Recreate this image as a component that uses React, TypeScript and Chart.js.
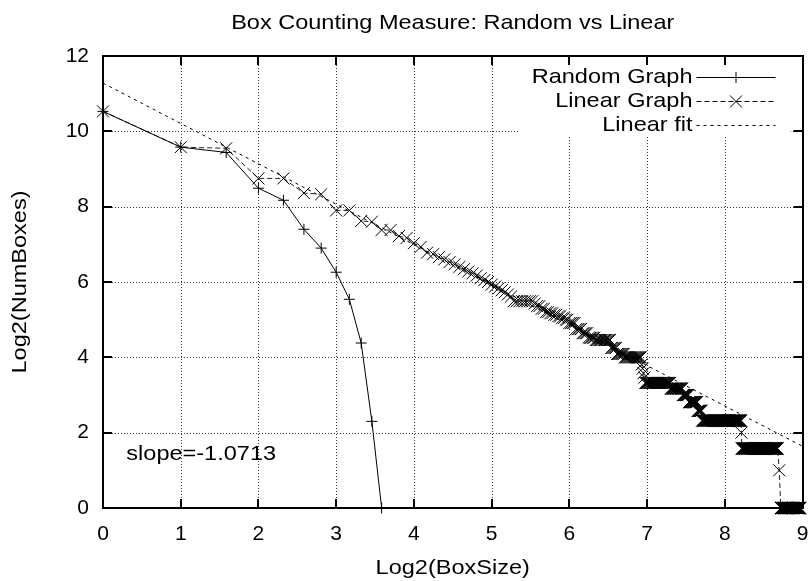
import React, { useEffect, useRef } from "react";
import { Chart, registerables } from "chart.js";

Chart.register(...registerables);

// ---------- data ----------
const chartTitle = "Box Counting Measure: Random vs Linear";
const xAxisLabel = "Log2(BoxSize)";
const yAxisLabel = "Log2(NumBoxes)";
const slopeLabel = "slope=-1.0713";
const legendLabels = ["Random Graph", "Linear Graph", "Linear fit"];

const xTicks = [0, 1, 2, 3, 4, 5, 6, 7, 8, 9];
const yTicks = [0, 2, 4, 6, 8, 10, 12];

// Random graph: box sizes and log2(number of boxes)
const randomBoxSizes = [1, 2, 3, 4, 5, 6, 7, 8, 9, 10, 11, 12];
const randomLog2Boxes = [10.53, 9.58, 9.44, 8.49, 8.17, 7.4, 6.9, 6.26, 5.54, 4.38, 2.3, 0];

// Linear graph: runs of box sizes [fromSize, toSize, log2(number of boxes)]
const linearRuns: [number, number, number][] = [
  [1, 1, 10.53], [2, 2, 9.58], [3, 3, 9.55], [4, 5, 8.75], [6, 6, 8.36], [7, 7, 8.33],
  [8, 9, 7.9], [10, 10, 7.62], [11, 11, 7.6], [12, 13, 7.38], [14, 14, 7.22], [15, 15, 7.17],
  [16, 16, 7.03], [17, 17, 6.93], [18, 18, 6.78], [19, 19, 6.74], [20, 20, 6.66], [21, 21, 6.6],
  [22, 22, 6.53], [23, 23, 6.47], [24, 24, 6.4], [25, 25, 6.34], [26, 26, 6.28], [27, 27, 6.23],
  [28, 28, 6.17], [29, 29, 6.1], [30, 30, 6.05], [31, 31, 6.0], [32, 32, 5.93], [33, 33, 5.88],
  [34, 34, 5.83], [35, 35, 5.78], [36, 36, 5.73], [37, 37, 5.67], [38, 38, 5.61], [39, 46, 5.49],
  [47, 47, 5.43], [48, 49, 5.36], [50, 51, 5.29], [52, 53, 5.2], [54, 55, 5.17], [56, 57, 5.13],
  [58, 59, 5.09], [60, 61, 5.04], [62, 63, 5.0], [64, 67, 4.91], [68, 71, 4.75], [72, 75, 4.64],
  [76, 80, 4.52], [81, 92, 4.46], [93, 97, 4.25], [98, 104, 4.09], [105, 121, 4.0],
  [122, 122, 3.81], [123, 123, 3.7], [124, 124, 3.58], [125, 125, 3.46], [126, 157, 3.32],
  [158, 175, 3.17], [176, 185, 3.0], [186, 200, 2.81], [201, 208, 2.58], [209, 296, 2.32],
  [297, 297, 2.0], [298, 410, 1.58], [416, 416, 1.0], [422, 502, 0],
];

// Linear fit
const fitSlope = -1.0713;
const fitIntercept = 11.28;
const fitXRange = [0, 9];

// slope annotation anchor (data coordinates)
const slopeLabelAt = { x: 0.3, y: 1.43 };

// ---------- styling ----------
const FONT_FAMILY = "'Liberation Sans', Arial, Helvetica, sans-serif";
const FONT_SIZE = 21;
const FONT = `${FONT_SIZE}px ${FONT_FAMILY}`;
const TEXT_STRETCH = 1.12;

function randomPoints() {
  return randomBoxSizes.map((s, i) => ({ x: Math.log2(s), y: randomLog2Boxes[i] }));
}

function linearPoints() {
  const pts: { x: number; y: number }[] = [];
  for (const [from, to, v] of linearRuns) {
    for (let s = from; s <= to; s++) pts.push({ x: Math.log2(s), y: v });
  }
  return pts;
}

function fitPoints() {
  return fitXRange.map((x) => ({ x, y: fitIntercept + fitSlope * x }));
}

function drawText(
  ctx: CanvasRenderingContext2D,
  text: string,
  x: number,
  y: number,
  align: CanvasTextAlign,
  rotation = 0
) {
  ctx.save();
  ctx.translate(x, y);
  if (rotation) ctx.rotate(rotation);
  ctx.scale(TEXT_STRETCH, 1);
  ctx.font = FONT;
  ctx.textAlign = align;
  ctx.textBaseline = "middle";
  ctx.fillStyle = "#000";
  ctx.fillText(text, 0, 0);
  ctx.restore();
}

function drawPlus(ctx: CanvasRenderingContext2D, cx: number, cy: number, r: number) {
  ctx.beginPath();
  ctx.moveTo(cx - r, cy);
  ctx.lineTo(cx + r, cy);
  ctx.moveTo(cx, cy - r);
  ctx.lineTo(cx, cy + r);
  ctx.stroke();
}

function drawTimes(ctx: CanvasRenderingContext2D, cx: number, cy: number, r: number) {
  const d = r * Math.SQRT1_2;
  ctx.beginPath();
  ctx.moveTo(cx - d, cy - d);
  ctx.lineTo(cx + d, cy + d);
  ctx.moveTo(cx + d, cy - d);
  ctx.lineTo(cx - d, cy + d);
  ctx.stroke();
}

const gnuplotPlugin = {
  id: "gnuplotFrame",
  beforeDatasetsDraw(chart: any) {
    const { ctx, chartArea: a, scales } = chart;
    const xs = scales.x;
    const ys = scales.y;
    ctx.save();
    ctx.strokeStyle = "#333";
    ctx.lineWidth = 1;
    ctx.setLineDash([1, 2]);
    for (const v of xTicks) {
      if (v === xTicks[0] || v === xTicks[xTicks.length - 1]) continue;
      const px = Math.round(xs.getPixelForValue(v)) + 0.5;
      ctx.beginPath();
      ctx.moveTo(px, a.top);
      ctx.lineTo(px, a.bottom);
      ctx.stroke();
    }
    for (const v of yTicks) {
      if (v === yTicks[0] || v === yTicks[yTicks.length - 1]) continue;
      const py = Math.round(ys.getPixelForValue(v)) + 0.5;
      ctx.beginPath();
      ctx.moveTo(a.left, py);
      ctx.lineTo(a.right, py);
      ctx.stroke();
    }
    ctx.setLineDash([]);
    // key area is kept clear of the grid
    ctx.fillStyle = "#fff";
    ctx.fillRect(a.right - 283, a.top + 1, 271, 79);
    ctx.restore();
  },
  afterDatasetsDraw(chart: any) {
    const { ctx, chartArea: a, scales } = chart;
    const xs = scales.x;
    const ys = scales.y;
    ctx.save();
    ctx.strokeStyle = "#000";
    ctx.fillStyle = "#000";
    ctx.setLineDash([]);

    // ticks (inside, mirrored)
    ctx.lineWidth = 2;
    const tl = 9;
    for (const v of xTicks) {
      const px = Math.round(xs.getPixelForValue(v));
      ctx.beginPath();
      ctx.moveTo(px, a.bottom);
      ctx.lineTo(px, a.bottom - tl);
      ctx.moveTo(px, a.top);
      ctx.lineTo(px, a.top + tl);
      ctx.stroke();
    }
    for (const v of yTicks) {
      const py = Math.round(ys.getPixelForValue(v));
      ctx.beginPath();
      ctx.moveTo(a.left, py);
      ctx.lineTo(a.left + tl, py);
      ctx.moveTo(a.right, py);
      ctx.lineTo(a.right - tl, py);
      ctx.stroke();
    }
    // border
    ctx.strokeRect(Math.round(a.left), Math.round(a.top), Math.round(a.right - a.left), Math.round(a.bottom - a.top));

    const cx = (a.left + a.right) / 2;
    const cy = (a.top + a.bottom) / 2;
    // title and axis titles
    drawText(ctx, chartTitle, cx, 23, "center");
    drawText(ctx, xAxisLabel, cx, 568, "center");
    drawText(ctx, yAxisLabel, 20, cy, "center", -Math.PI / 2);

    // slope label
    drawText(ctx, slopeLabel, xs.getPixelForValue(slopeLabelAt.x), ys.getPixelForValue(slopeLabelAt.y), "left");

    // legend
    const textRight = a.right - 110;
    const sampleL = a.right - 106;
    const sampleR = a.right - 27;
    const sampleC = (sampleL + sampleR) / 2;
    legendLabels.forEach((label, i) => {
      const ry = Math.round(a.top + 21 + 24 * i) + 0.5;
      drawText(ctx, label, textRight, ry, "right");
      ctx.lineWidth = 1;
      ctx.strokeStyle = "#000";
      if (i === 0) ctx.setLineDash([]);
      else if (i === 1) ctx.setLineDash([5, 3]);
      else ctx.setLineDash([3, 4]);
      ctx.beginPath();
      ctx.moveTo(sampleL, ry);
      ctx.lineTo(sampleR, ry);
      ctx.stroke();
      ctx.setLineDash([]);
      if (i === 0) drawPlus(ctx, sampleC, ry, 5.5);
      if (i === 1) drawTimes(ctx, sampleC, ry, 8.5);
    });
    ctx.restore();
  },
};

export default function App() {
  const canvasRef = useRef<HTMLCanvasElement>(null);

  useEffect(() => {
    document.body.style.margin = "0";
    const canvas = canvasRef.current;
    if (!canvas) return;
    const tickFont = { family: FONT_FAMILY, size: FONT_SIZE };
    const chart = new Chart(canvas, {
      type: "scatter",
      data: {
        datasets: [
          {
            label: legendLabels[0],
            data: randomPoints(),
            showLine: true,
            borderColor: "#000",
            borderWidth: 1,
            pointStyle: "cross",
            pointRadius: 5.5,
            pointBorderColor: "#000",
            pointBorderWidth: 1,
            pointBackgroundColor: "#000",
            clip: false,
          },
          {
            label: legendLabels[1],
            data: linearPoints(),
            showLine: true,
            borderColor: "#222",
            borderWidth: 1,
            borderDash: [5, 3],
            pointStyle: "crossRot",
            pointRadius: 8.5,
            pointBorderColor: "#000",
            pointBorderWidth: 1,
            pointBackgroundColor: "#000",
            clip: false,
          },
          {
            label: legendLabels[2],
            data: fitPoints(),
            showLine: true,
            borderColor: "#000",
            borderWidth: 1,
            borderDash: [3, 4],
            pointRadius: 0,
            clip: false,
          },
        ],
      },
      options: {
        animation: false,
        responsive: false,
        devicePixelRatio: 1,
        events: [],
        layout: { padding: { left: 0, right: 7, top: 56, bottom: 0 } },
        plugins: {
          legend: { display: false },
          title: { display: false },
          tooltip: { enabled: false },
        },
        scales: {
          x: {
            type: "linear",
            min: 0,
            max: 9,
            afterBuildTicks: (scale: any) => {
              scale.ticks = xTicks.map((v) => ({ value: v }));
            },
            ticks: { font: tickFont, color: "#000", padding: 14 },
            grid: { display: false, drawTicks: false },
            border: { display: false },
            afterFit: (scale: any) => {
              scale.height = 73;
              scale.paddingLeft = 0;
              scale.paddingRight = 0;
            },
          },
          y: {
            type: "linear",
            min: 0,
            max: 12,
            afterBuildTicks: (scale: any) => {
              scale.ticks = yTicks.map((v) => ({ value: v }));
            },
            ticks: { font: tickFont, color: "#000", padding: 14 },
            grid: { display: false, drawTicks: false },
            border: { display: false },
            afterFit: (scale: any) => {
              scale.width = 103;
              scale.paddingTop = 0;
              scale.paddingBottom = 0;
            },
          },
        },
      },
      plugins: [gnuplotPlugin],
    } as any);
    return () => chart.destroy();
  }, []);

  return (
    <div style={{ width: 812, height: 581 }}>
      <canvas ref={canvasRef} width={812} height={581} style={{ display: "block", width: 812, height: 581 }} />
    </div>
  );
}
